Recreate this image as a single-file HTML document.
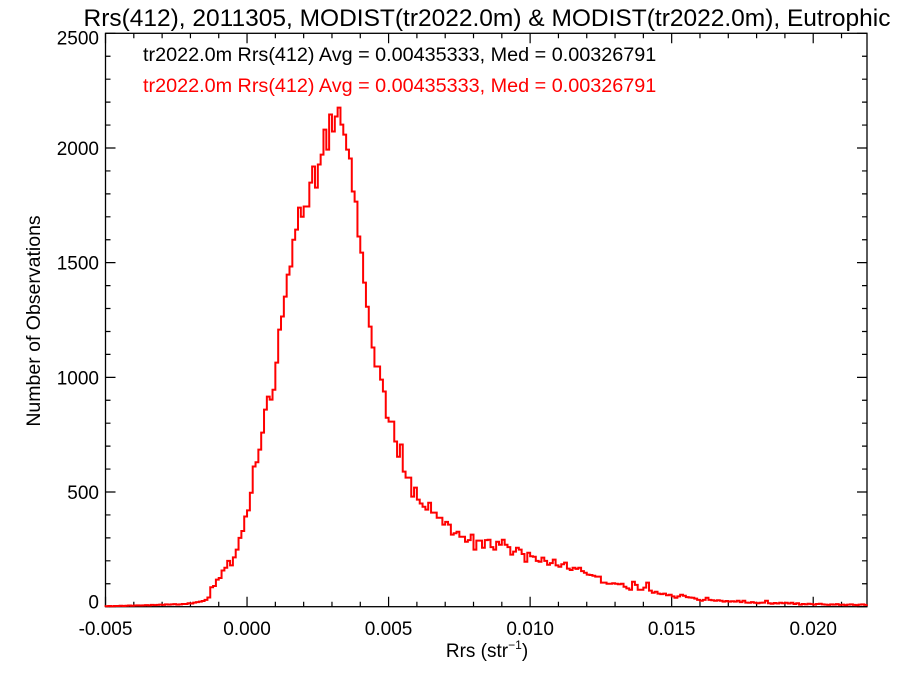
<!DOCTYPE html>
<html><head><meta charset="utf-8"><style>
html,body{margin:0;padding:0;background:#fff;}
svg{display:block;font-family:"Liberation Sans",sans-serif;}
</style></head><body>
<svg id="chart" width="900" height="675" viewBox="0 0 900 675" xmlns="http://www.w3.org/2000/svg">
<text x="487" y="26" font-size="24.5" text-anchor="middle">Rrs(412), 2011305, MODIST(tr2022.0m) &amp; MODIST(tr2022.0m), Eutrophic</text>
<text x="143" y="61" font-size="19.8" fill="#000">tr2022.0m Rrs(412) Avg = 0.00435333, Med = 0.00326791</text>
<text x="143" y="92" font-size="19.8" fill="#ff0000">tr2022.0m Rrs(412) Avg = 0.00435333, Med = 0.00326791</text>
<text transform="translate(40,321) rotate(-90)" font-size="19.5" text-anchor="middle">Number of Observations</text>
<text x="487" y="657" font-size="19" text-anchor="middle">Rrs (str<tspan dy="-8" font-size="12">−1</tspan><tspan dy="8">)</tspan></text>
<g id="axes"></g>
<g id="series"></g>
</svg>
<script>
const xTicks=[-0.005,0.000,0.005,0.010,0.015,0.020];
const xTickLabels=["-0.005","0.000","0.005","0.010","0.015","0.020"];
const yTicks=[0,500,1000,1500,2000,2500];
const yTickLabels=["0","500","1000","1500","2000","2500"];
const binStart=-0.005;
const binWidth=0.0001;
const counts=[2,3,2,3,3,4,3,4,5,4,5,6,5,6,7,6,8,7,8,9,8,10,9,10,11,9,
10,12,12,15,14,18,20,22,25,30,40,85,90,118,125,158,170,200,180,215,249,300,330,393,
420,497,611,630,685,759,859,916,903,946,1064,1208,1265,1352,1448,1483,1600,1644,1740,1700,
1745,1745,1849,1919,1827,1928,1971,2080,1993,2146,2072,2137,2176,2102,2058,1993,1954,1810,1766,1614,
1544,1413,1308,1221,1130,1047,1047,990,938,824,807,807,720,654,707,589,563,563,480,519,
467,450,436,423,453,410,410,388,388,358,370,358,314,320,327,305,305,283,290,314,
249,288,288,257,290,292,260,249,283,270,292,270,260,227,240,257,249,230,196,235,
220,218,200,196,214,200,183,190,205,180,174,185,192,166,160,170,165,170,155,148,
140,138,135,131,131,105,105,100,100,102,100,98,100,87,80,74,109,95,74,74,
83,105,70,61,65,57,55,57,50,52,45,39,45,52,48,42,40,39,35,30,
26,30,39,30,28,26,28,26,22,25,22,24,22,26,20,
26,18,17,20,17,15,17,18,26,15,13,16,14,17,15,17,14,17,12,15,9,12,10,13,11,9,12,13,10,9,8,10,9,11,8,9,7,9,10,8,7,9,10,8,9];

const L=105.5,R=867,T=33.3,B=606.7;
const xMin=-0.005,xMax=0.0219,yMin=0,yMax=2500;
const sx=v=>L+(v-xMin)/(xMax-xMin)*(R-L);
const sy=v=>B-(v-yMin)/(yMax-yMin)*(B-T);
const NS="http://www.w3.org/2000/svg";
const axes=document.getElementById('axes');
const series=document.getElementById('series');
function mk(tag,attrs,parent){const e=document.createElementNS(NS,tag);for(const k in attrs)e.setAttribute(k,attrs[k]);parent.appendChild(e);return e;}

const frame=mk('rect',{x:L,y:T,width:R-L,height:B-T,fill:'none',stroke:'#000','stroke-width':1.3},axes);



let d='';
for(let k=-5;k<=21;k++){
  const v=k/1000;const x=sx(v);const major=k%5===0;const len=major?10:5;
  d+=`M${x},${B}V${B-len}M${x},${T}V${T+len}`;
}
for(let v=0;v<=2500;v+=100){
  const y=sy(v);const major=v%500===0;const len=major?10:5;
  d+=`M${L},${y}H${L+len}M${R},${y}H${R-len}`;
}
const ticks=mk('path',{d:d,stroke:'#000','stroke-width':1.2,fill:'none'},axes);



xTicks.forEach((v,i)=>{
  const t=mk('text',{x:sx(v),y:635,'font-size':19,'text-anchor':'middle'},axes);
  t.textContent=xTickLabels[i];
  
  
});
yTicks.forEach((v,i)=>{
  let y=sy(v)+7;
  if(v===0)y=sy(v)+2; if(v===2500)y=sy(v)+11;
  const t=mk('text',{x:99,y:y,'font-size':19,'text-anchor':'end'},axes);
  t.textContent=yTickLabels[i];
  
  
});

let p=`M${sx(binStart)},${sy(0)}`;
counts.forEach((c,i)=>{
  const x1=sx(binStart+(i+1)*binWidth);
  p+=`V${sy(c)}H${Math.min(x1,R)}`;
});
const line=mk('path',{d:p,stroke:'#ff0000','stroke-width':2,fill:'none'},series);


</script>
</body></html>
